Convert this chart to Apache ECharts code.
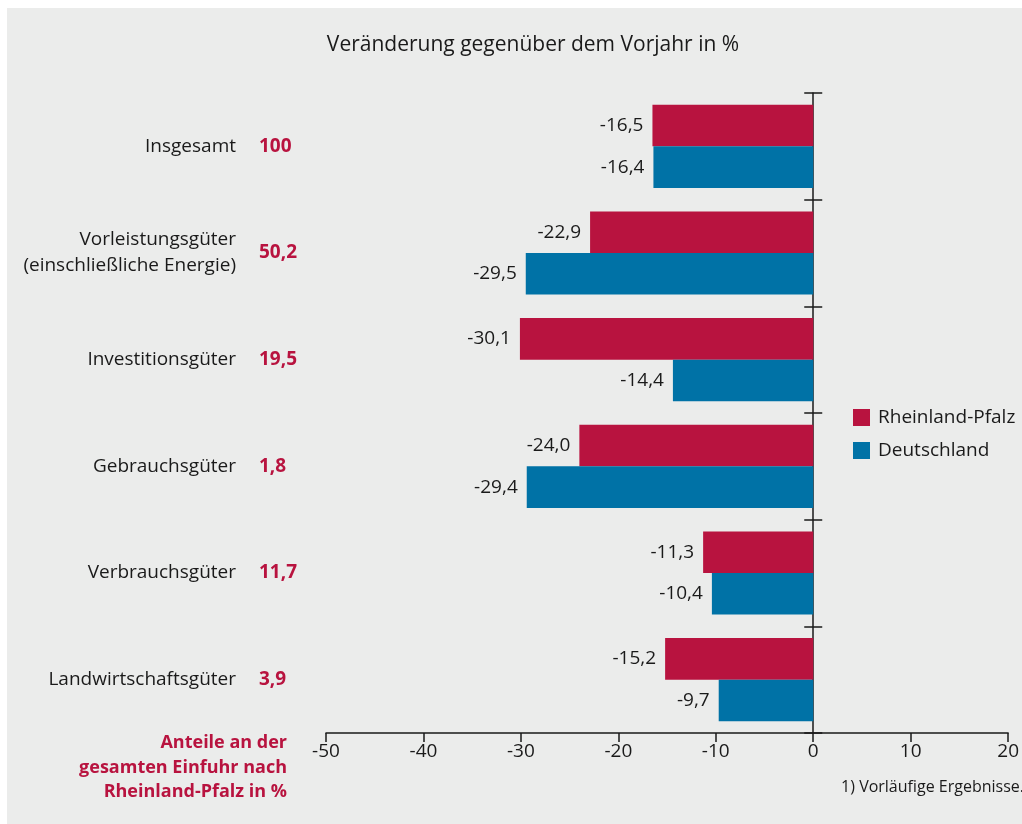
<!DOCTYPE html>
<html>
<head>
<meta charset="utf-8">
<script src="https://cdn.jsdelivr.net/npm/echarts@6/dist/echarts.min.js"></script>
<style>
  html, body { margin: 0; padding: 0; background: #ffffff; }
  #bg { position: absolute; left: 7px; top: 8px; right: 0; bottom: 0; background: #ebeceb; }
  #chart { position: absolute; left: 0; top: 0; width: 1022px; height: 824px; }
</style>
</head>
<body>
<div id="bg"></div>
<div id="chart"></div>
<script>
// Warengruppen und Anteile an der Einfuhr
const categories = ['Insgesamt', 'Vorleistungsgüter\n(einschließliche Energie)', 'Investitionsgüter',
  'Gebrauchsgüter', 'Verbrauchsgüter', 'Landwirtschaftsgüter']
const shares = ['100', '50,2', '19,5', '1,8', '11,7', '3,9']
const rheinlandPfalz = [-16.5, -22.9, -30.1, -24.0, -11.3, -15.2]
const deutschland = [-16.4, -29.5, -14.4, -29.4, -10.4, -9.7]
const xTicks = [-50, -40, -30, -20, -10, 0, 10, 20]

const font = 'Open Sans'
const red = '#b8133f'
const blue = '#0072a6'
const ink = '#1a1a1a'
const fs = 19

const fmt = v => v.toFixed(1).replace('.', ',')

const chart = echarts.init(document.getElementById('chart'))

const catAxis = {
  type: 'category',
  data: categories,
  inverse: true,
  axisLine: { show: false },
  axisTick: { show: false },
  axisLabel: { show: false },
  splitLine: { show: false }
}

chart.setOption({
  backgroundColor: 'transparent',
  textStyle: { fontFamily: font },
  title: {
    text: 'Veränderung gegenüber dem Vorjahr in %',
    left: 528,
    textAlign: 'center',
    top: 30,
    textStyle: { fontFamily: font, fontSize: 21, fontWeight: 'normal', color: ink }
  },
  legend: {
    orient: 'vertical',
    left: 853,
    top: 408,
    padding: 0,
    itemWidth: 17,
    itemHeight: 17,
    itemGap: 14,
    icon: 'rect',
    textStyle: { fontFamily: font, fontSize: fs, color: ink, padding: [0, 0, 0, 3] },
    data: ['Rheinland-Pfalz', 'Deutschland']
  },
  grid: { left: 326, right: 10, top: 93, bottom: 91, containLabel: false },
  xAxis: {
    type: 'value',
    min: -50,
    max: 20,
    interval: 10,
    axisLine: { show: true, lineStyle: { color: ink, width: 1.5 } },
    axisTick: { show: true, length: 9, lineStyle: { color: ink, width: 1.5 } },
    axisLabel: {
      margin: 9, fontFamily: font, fontSize: fs, color: ink,
      customValues: xTicks, formatter: v => String(v)
    },
    splitLine: { show: false }
  },
  yAxis: [
    // Achse bei 0, Striche nach links
    Object.assign({}, catAxis, {
      axisLine: { show: true, onZero: true, onZeroAxisIndex: 0, lineStyle: { color: ink, width: 1.5 } },
      axisTick: { show: true, length: 9, lineStyle: { color: ink, width: 1.5 } }
    }),
    // Achse bei 0, Striche nach rechts
    Object.assign({}, catAxis, {
      position: 'right',
      axisLine: { show: false, onZero: true, onZeroAxisIndex: 0 },
      axisTick: { show: true, length: 9, lineStyle: { color: ink, width: 1.5 } }
    }),
    // Warengruppen
    Object.assign({}, catAxis, {
      position: 'left',
      axisLine: { show: false, onZero: false },
      axisLabel: {
        show: true, margin: 90, align: 'right', fontFamily: font, fontSize: fs,
        color: ink, lineHeight: 26
      }
    }),
    // Anteile
    Object.assign({}, catAxis, {
      position: 'left',
      axisLine: { show: false, onZero: false },
      axisLabel: {
        show: true, margin: 67, align: 'left', fontFamily: font, fontSize: fs,
        fontWeight: 'bold', color: red,
        formatter: (v, i) => shares[i]
      }
    })
  ],
  graphic: [
    {
      type: 'text',
      x: 287,
      y: 731,
      style: {
        text: 'Anteile an der\ngesamten Einfuhr nach\nRheinland-Pfalz in %',
        font: 'bold 18px "Open Sans"',
        fill: red,
        align: 'right',
        verticalAlign: 'top',
        lineHeight: 24.5
      }
    },
    {
      type: 'text',
      x: 1024,
      y: 779,
      style: {
        text: '1) Vorläufige Ergebnisse.',
        font: '16px "Open Sans"',
        fill: ink,
        align: 'right',
        verticalAlign: 'top'
      }
    }
  ],
  series: [
    {
      name: 'Rheinland-Pfalz',
      type: 'bar',
      data: rheinlandPfalz,
      barGap: 0,
      barCategoryGap: '22%',
      itemStyle: { color: red },
      label: { show: true, position: 'left', distance: 9, fontFamily: font, fontSize: fs, color: ink, formatter: p => fmt(p.value) }
    },
    {
      name: 'Deutschland',
      type: 'bar',
      data: deutschland,
      barGap: 0,
      barCategoryGap: '22%',
      itemStyle: { color: blue },
      label: { show: true, position: 'left', distance: 9, fontFamily: font, fontSize: fs, color: ink, formatter: p => fmt(p.value) }
    }
  ]
})
</script>
</body>
</html>
